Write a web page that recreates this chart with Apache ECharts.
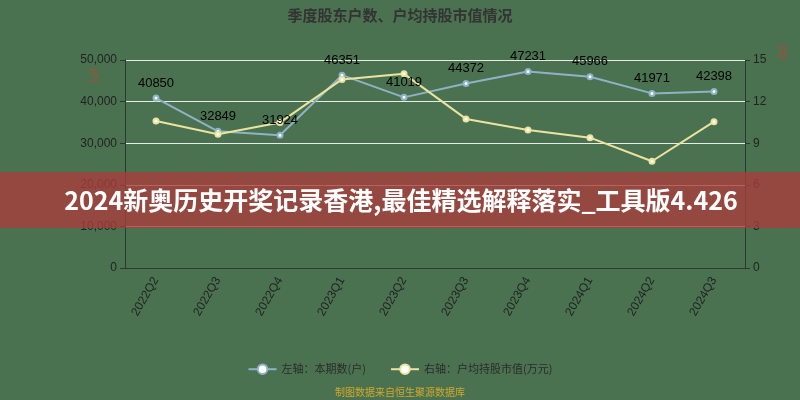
<!DOCTYPE html>
<html>
<head>
<meta charset="utf-8">
<script src="https://cdn.jsdelivr.net/npm/echarts@6/dist/echarts.min.js"></script>
<style>
  html, body { margin: 0; padding: 0; background: #4a7250; }
  #chart { width: 800px; height: 400px; }
</style>
</head>
<body>
<div id="chart"></div>
<script>
// quarters on the x axis
const quarters = ['2022Q2', '2022Q3', '2022Q4', '2023Q1', '2023Q2', '2023Q3', '2023Q4', '2024Q1', '2024Q2', '2024Q3']
// left axis: holders count
const holders = [40850, 32849, 31924, 46351, 41019, 44372, 47231, 45966, 41971, 42398]
// right axis: avg market value per holder (万元)
const avgValue = [10.6, 9.65, 10.5, 13.6, 14.0, 10.75, 9.95, 9.4, 7.7, 10.55]

const bannerText = '2024新奥历史开奖记录香港,最佳精选解释落实_工具版4.426'

let chart = echarts.init(document.getElementById('chart'))
chart.setOption({
  backgroundColor: '#4a7250',
  title: {
    text: '季度股东户数、户均持股市值情况',
    left: 'center',
    top: 3,
    textStyle: { fontSize: 15, fontWeight: 'bold', color: '#333', fontFamily: 'Noto Sans CJK SC' }
  },
  grid: { left: 125, right: 55, top: 60, bottom: 132 },
  legend: {
    bottom: 20,
    left: 'center',
    itemWidth: 28,
    itemHeight: 12,
    itemGap: 24,
    textStyle: { color: '#2b2b2b', fontSize: 11, fontFamily: 'Noto Sans CJK SC' },
    data: ['左轴：本期数(户)', '右轴：户均持股市值(万元)']
  },
  xAxis: {
    type: 'category',
    data: quarters,
    axisLine: { lineStyle: { color: '#2a3a2c' } },
    axisTick: { lineStyle: { color: '#2a3a2c' } },
    axisLabel: { rotate: 60, color: '#222', fontSize: 12, margin: 10 }
  },
  yAxis: [{
    type: 'value',
    min: 0, max: 50000, interval: 10000,
    axisLine: { show: true, lineStyle: { color: '#2a3a2c' } },
    axisTick: { show: true, lineStyle: { color: '#2a3a2c' } },
    axisLabel: { color: '#222', fontSize: 12, formatter: v => v.toLocaleString('en-US') },
    splitLine: { lineStyle: { color: '#e6ece6', width: 1 } }
  }, {
    type: 'value',
    min: 0, max: 15, interval: 3,
    axisLine: { show: true, lineStyle: { color: '#2a3a2c' } },
    axisTick: { show: true, lineStyle: { color: '#2a3a2c' } },
    axisLabel: { color: '#222', fontSize: 12 },
    splitLine: { show: false }
  }],
  series: [{
    name: '左轴：本期数(户)',
    type: 'line',
    data: holders,
    symbol: 'emptyCircle',
    symbolSize: 5,
    lineStyle: { color: '#8fb2c6', width: 2 },
    itemStyle: { color: '#8fb2c6', borderColor: '#8fb2c6' },
    label: { show: true, position: 'top', distance: 5, color: '#000', fontSize: 13 }
  }, {
    name: '右轴：户均持股市值(万元)',
    type: 'line',
    yAxisIndex: 1,
    data: avgValue,
    symbol: 'emptyCircle',
    symbolSize: 5,
    lineStyle: { color: '#ece3a0', width: 2 },
    itemStyle: { color: '#ece3a0', borderColor: '#ece3a0' }
  }],
  graphic: [{
    type: 'text',
    left: 89, top: 68,
    rotation: -Math.PI / 2,
    style: { text: '(户)', fill: '#c8402c', fontSize: 9 }
  }, {
    type: 'text',
    left: 778, top: 45,
    rotation: -Math.PI / 2,
    style: { text: '(元)', fill: '#c8402c', fontSize: 9 }
  }, {
    type: 'text',
    x: 400, y: 387,
    style: { text: '制图数据来自恒生聚源数据库', fill: '#d4a82c', fontSize: 10, align: 'center', fontFamily: 'Noto Sans CJK SC' }
  }, {
    type: 'rect',
    left: 0, top: 172,
    shape: { width: 800, height: 56 },
    style: { fill: 'rgba(170, 60, 60, 0.78)' },
    z: 100
  }, {
    type: 'text',
    x: 401, y: 200,
    z: 101,
    style: {
      text: bannerText, fill: '#fff', fontSize: 25, fontWeight: 'bold',
      align: 'center', verticalAlign: 'middle', fontFamily: 'Noto Sans CJK SC'
    }
  }]
})
</script>
</body>
</html>
